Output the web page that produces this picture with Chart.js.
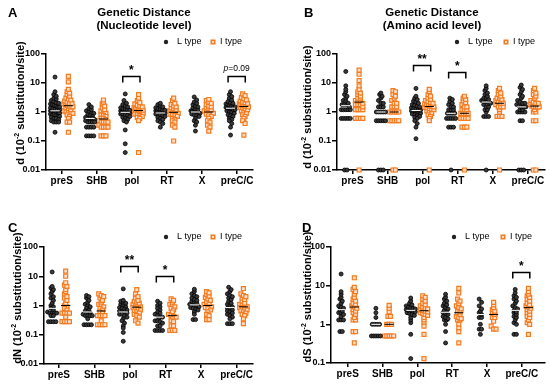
<!DOCTYPE html>
<html>
<head>
<meta charset="utf-8">
<script src="https://cdn.jsdelivr.net/npm/chart.js@4"></script>
<style>
html,body{margin:0;padding:0;background:#fff;width:550px;height:387px;overflow:hidden}
.p{position:absolute}
</style>
</head>
<body>
<div class="p" style="left:0;top:0"><canvas id="cA" width="275" height="195"></canvas></div>
<div class="p" style="left:275px;top:0"><canvas id="cB" width="275" height="195"></canvas></div>
<div class="p" style="left:0;top:195px"><canvas id="cC" width="275" height="192"></canvas></div>
<div class="p" style="left:275px;top:195px"><canvas id="cD" width="275" height="192"></canvas></div>
<script>
// categories and tick labels
var genes = ['preS', 'SHB', 'pol', 'RT', 'X', 'preC/C'];
var ticksABC = [0.01, 0.1, 1, 10, 100];
var ticksD = [0.1, 1, 10, 100];

// A: d, nucleotide level (one list per gene)
var aL = [
  [16,5,4,3.5,3,2.8,2.5,2.3,2.1,2,1.9,1.8,1.7,1.6,1.5,1.5,1.4,1.3,1.3,1.2,1.2,1.1,1.1,1,1,1,0.95,0.9,0.9,0.85,0.8,0.8,0.75,0.7,0.7,0.65,0.6,0.6,0.55,0.5,0.45,0.45,0.45,0.2],
  [1.8,1.5,1.3,1.2,1.1,1,0.9,0.9,0.8,0.75,0.7,0.65,0.6,0.6,0.6,0.55,0.5,0.45,0.45,0.45,0.45,0.3,0.3,0.3,0.3,0.15,0.15,0.15,0.15],
  [4.2,2.5,2,1.8,1.6,1.5,1.4,1.3,1.25,1.2,1.15,1.1,1.05,1,1,1,0.95,0.9,0.9,0.85,0.8,0.8,0.75,0.7,0.65,0.6,0.55,0.5,0.45,0.24,0.08,0.04],
  [2,1.8,1.6,1.5,1.4,1.3,1.25,1.2,1.15,1.1,1.05,1,1,0.95,0.9,0.9,0.85,0.8,0.8,0.75,0.7,0.65,0.6,0.55,0.5,0.45,0.4,0.3],
  [3.3,2.6,2.2,2,1.8,1.6,1.5,1.4,1.3,1.2,1.1,1.05,1,1,0.95,0.9,0.9,0.85,0.8,0.75,0.7,0.6,0.5,0.45,0.35,0.22],
  [5,4,3.4,3,2.6,2.3,2.1,2,1.9,1.8,1.7,1.6,1.5,1.5,1.45,1.4,1.35,1.3,1.2,1.2,1.1,1,1,0.9,0.8,0.75,0.7,0.6,0.55,0.5,0.4,0.3,0.16]
];
var aI = [
  [17,11,6,5,4.5,4,3.5,3,2.8,2.6,2.4,2.2,2,2,1.9,1.8,1.7,1.6,1.5,1.5,1.4,1.3,1.2,1.1,1,1,0.9,0.9,0.8,0.7,0.6,0.45,0.45,0.2],
  [2.6,2.2,1.9,1.6,1.4,1.2,1.1,1,0.9,0.8,0.75,0.7,0.6,0.6,0.55,0.5,0.45,0.45,0.45,0.45,0.35,0.3,0.3,0.3,0.3,0.15,0.15,0.15],
  [4,3,2.5,2.1,1.9,1.7,1.6,1.5,1.4,1.35,1.3,1.25,1.2,1.2,1.15,1.1,1.1,1.05,1,1,0.95,0.9,0.85,0.8,0.75,0.7,0.65,0.6,0.5,0.04],
  [3,2.5,2,1.8,1.6,1.5,1.4,1.3,1.2,1.1,1.05,1,1,0.95,0.9,0.85,0.8,0.75,0.7,0.6,0.55,0.5,0.45,0.35,0.3,0.1],
  [2.7,2.5,2.2,2,1.8,1.6,1.5,1.4,1.3,1.2,1.1,1,1,0.95,0.9,0.85,0.8,0.7,0.6,0.5,0.45,0.35,0.3,0.22],
  [4.2,3.7,3.2,2.9,2.6,2.4,2.2,2.1,2,1.9,1.8,1.7,1.65,1.6,1.55,1.5,1.45,1.4,1.3,1.2,1.1,1,0.9,0.8,0.7,0.6,0.5,0.4,0.16]
];

// B: d, amino acid level (0.01 = zero, drawn on the axis)
var bL = [
  [25,8,6,5,4,3.5,3,2.5,2.4,2,1.8,1.8,1.8,1.5,1.2,1.2,1.2,1.2,1.2,0.6,0.6,0.6,0.6,0.6,0.01,0.01],
  [4.5,4,3.5,3,2.5,2,2,1.5,1.5,1.5,1,1,1,1,1,0.5,0.5,0.5,0.5,0.5,0.01,0.01,0.01],
  [6.5,3.5,3,2.7,2.4,2.2,2,1.8,1.7,1.6,1.5,1.4,1.3,1.25,1.2,1.15,1.1,1.05,1,1,0.95,0.9,0.85,0.8,0.75,0.7,0.65,0.6,0.5,0.4,0.3,0.12],
  [3,2.7,2.3,2,1.8,1.5,1.5,1.2,1.2,1.2,0.9,0.9,0.9,0.9,0.6,0.6,0.6,0.6,0.6,0.3,0.3,0.3,0.01],
  [8,6.5,5.5,4.5,4,3.5,3,3,2.7,2.5,2.5,2.2,2.2,2,2,1.8,1.5,1.5,1.2,1.2,1,0.7,0.7,0.7,0.01],
  [8.5,7,6,5,4,3.5,3,2.5,2.2,2,2,1.8,1.6,1.5,1.5,1.5,1.2,1.2,1,1,1,1,0.5,0.5,0.01,0.01,0.01]
];
var bI = [
  [28,20,12,8,6,5,4.5,4,3.5,3,3,2.5,2.4,2.4,2,1.8,1.8,1.8,1.5,1.2,1.2,1.2,1.2,0.6,0.6,0.6,0.6,0.01],
  [5.5,5,4,3.5,3,2.5,2,2,1.5,1.5,1.5,1,1,1,1,1,0.5,0.5,0.5,0.5,0.5,0.01,0.01],
  [6,5,4,3.5,3,2.7,2.5,2.3,2.1,2,1.9,1.8,1.7,1.6,1.55,1.5,1.45,1.4,1.3,1.25,1.2,1.1,1,0.9,0.8,0.7,0.6,0.5,0.01],
  [3.5,3,2.7,2.4,2.1,1.8,1.5,1.5,1.2,1.2,1.2,0.9,0.9,0.9,0.9,0.6,0.6,0.6,0.6,0.3,0.3,0.3,0.01],
  [6.5,5.5,4.5,4,3.5,3,3,2.7,2.5,2.2,2,2,1.8,1.5,1.5,1.5,1.2,1,0.7,0.7,0.7,0.01],
  [6.5,5.5,4.5,4,3.5,3,2.5,2.2,2,2,1.8,1.6,1.5,1.5,1.5,1.5,1.2,1,1,0.5,0.5,0.01,0.01]
];

// C: dN
var cL = [
  [14,4.5,4,3.5,3,2.5,2,1.8,1.5,1.2,1,0.9,0.8,0.7,0.6,0.55,0.55,0.55,0.55,0.45,0.45,0.28,0.28,0.28,0.28],
  [2.2,2,1.8,1.5,1.3,1.1,1,0.9,0.8,0.7,0.65,0.6,0.55,0.5,0.45,0.45,0.45,0.45,0.35,0.22,0.22,0.22,0.22],
  [3.7,1.5,1.4,1.3,1.2,1.1,1,0.9,0.85,0.8,0.75,0.7,0.65,0.6,0.6,0.55,0.5,0.5,0.45,0.4,0.35,0.3,0.25,0.2,0.17,0.12,0.06],
  [1.4,1.2,1,0.9,0.8,0.7,0.6,0.55,0.5,0.45,0.4,0.4,0.35,0.3,0.3,0.28,0.25,0.2,0.2,0.14,0.14,0.14,0.14],
  [3.6,3,2.5,2.2,2,1.8,1.6,1.5,1.4,1.3,1.2,1.1,1,1,0.95,0.9,0.85,0.8,0.75,0.7,0.6,0.5,0.33,0.33],
  [4.2,3.5,3,2.5,2.2,2,1.8,1.6,1.4,1.2,1.1,1,0.9,0.8,0.75,0.7,0.65,0.6,0.55,0.5,0.45,0.4,0.35,0.24,0.24,0.24]
];
var cI = [
  [15,10,6,5,4.5,3.5,3,2.5,2,1.8,1.5,1.2,1,0.9,0.8,0.7,0.55,0.55,0.55,0.55,0.4,0.28,0.28,0.28,0.28],
  [2.5,2.2,2,1.8,1.5,1.3,1.1,1,0.9,0.8,0.7,0.6,0.55,0.45,0.45,0.45,0.45,0.3,0.22,0.22,0.22,0.22],
  [3.5,2.5,2,1.8,1.5,1.4,1.3,1.2,1.1,1,0.95,0.9,0.85,0.8,0.75,0.7,0.65,0.6,0.55,0.5,0.45,0.4,0.3,0.25],
  [1.7,1.5,1.3,1.1,1,0.9,0.8,0.7,0.6,0.5,0.45,0.42,0.4,0.35,0.3,0.28,0.2,0.2,0.14,0.14,0.14],
  [3,2.7,2.4,2.1,1.9,1.7,1.5,1.3,1.2,1.1,1,0.95,0.9,0.85,0.8,0.7,0.6,0.5,0.45,0.33,0.33],
  [3.8,2.5,2.2,2,1.8,1.6,1.4,1.2,1.1,1,0.95,0.9,0.85,0.8,0.75,0.7,0.65,0.6,0.55,0.5,0.45,0.35,0.24]
];

// D: dS
var dL = [
  [20,7,6,5,4.5,4,3.5,3,2.8,2.6,2.4,2.2,2,2,1.8,1.6,1.3,1.3,1.3,0.65,0.65],
  [2.6,2,1.5,1,1,1,1,0.5,0.5,0.5,0.5,0.5],
  [4.8,4,3.5,3.2,3,2.8,2.7,2.6,2.5,2.4,2.35,2.3,2.2,2.1,2,1.9,1.8,1.7,1.5,1.3,1.1,0.55,0.13],
  [6,5,4.5,4,3.5,3.2,3,2.7,2.5,2.3,2.1,2,1.9,1.8,1.6,1.5,1.4,1.3,1.3,1,0.65,0.33],
  [4.5,3.7,3,2.5,2.2,2,1.8,1.5,1.5,1,0.75,0.75,0.55],
  [8,6.5,5.5,5,4.5,4,3.5,3,2.7,2.5,2.3,2.1,2,1.8,1.6,1.5,1.3,1.1,1,0.55,0.55]
];
var dI = [
  [16,9,8,7,6,5,4.5,4,3.5,3.3,3,2.8,2.6,2.4,2.2,2,1.8,1.5,1.3,1.3,0.65,0.65,0.33],
  [3.1,2.6,2.1,1.6,1.6,1,1,1,0.5,0.5,0.5,0.5,0.5],
  [5.5,5,4.5,4,3.5,3.2,3,2.8,2.6,2.5,2.4,2.3,2.2,2.1,2,1.9,1.8,1.7,1.5,1.3,1.1,0.9,0.55,0.13],
  [8.5,6.5,4.5,4,3.5,3,2.7,2.5,2.3,2.1,2,1.8,1.6,1.5,1.4,1.3,1.3,1,0.8,0.65,0.33],
  [3.7,3.2,2.7,2.4,2.2,2,1.8,1.5,1.5,1.2,0.9,0.75,0.75],
  [8.5,7,6,5.5,5,4.5,4,3.5,3.2,3,2.8,2.6,2.4,2.2,2,1.8,1.6,1.5,1.3,1.1,1,0.55]
];

// significance brackets: gene index, bracket height (value), label
var sigA = [{i: 2, y: 17, t: '*'}, {i: 5, y: 17, t: 'p=0.09'}];
var sigB = [{i: 2, y: 41, t: '**'}, {i: 3, y: 24, t: '*'}];
var sigC = [{i: 2, y: 22, t: '**'}, {i: 3, y: 10, t: '*'}];
var sigD = [{i: 5, y: 22, t: '*'}];

var ORANGE = '#F47B20';
var FONT = '"Liberation Sans", Arial, sans-serif';
var SIDE = 0.19, STEP = 0.07, HALF = 0.13;

// stack equal-looking values side by side in rows
function swarm(groups, side, bpd) {
  var pts = [];
  groups.forEach(function (vals, i) {
    var rows = {};
    vals.forEach(function (v) {
      var b = Math.round(Math.log10(v) * bpd);
      (rows[b] = rows[b] || []).push(v);
    });
    Object.keys(rows).forEach(function (b) {
      var r = rows[b], n = r.length;
      var st = n > 1 ? Math.min(STEP, 2 * HALF / (n - 1)) : 0;
      r.forEach(function (v, k) {
        pts.push({x: i + side * SIDE + (k - (n - 1) / 2) * st, y: v});
      });
    });
  });
  return pts;
}

function median(a) {
  var s = a.slice().sort(function (p, q) { return p - q; });
  var m = s.length >> 1;
  return s.length % 2 ? s[m] : (s[m - 1] + s[m]) / 2;
}

var decor = {
  id: 'decor',
  afterDatasetsDraw: function (chart, args, o) {
    var ctx = chart.ctx, xs = chart.scales.x, ys = chart.scales.y;
    ctx.save();
    // median lines
    [[o.L, '#fff', -1], [o.I, '#000', 1]].forEach(function (g) {
      g[0].forEach(function (vals, i) {
        var c = i + g[2] * SIDE, y = ys.getPixelForValue(median(vals));
        ctx.strokeStyle = g[1]; ctx.lineWidth = 1;
        ctx.beginPath();
        ctx.moveTo(xs.getPixelForValue(c - 0.13), y);
        ctx.lineTo(xs.getPixelForValue(c + 0.13), y);
        ctx.stroke();
      });
    });
    // brackets
    ctx.strokeStyle = '#000'; ctx.fillStyle = '#000'; ctx.lineWidth = 1.5;
    o.sig.forEach(function (s) {
      var x1 = xs.getPixelForValue(s.i - 0.26), x2 = xs.getPixelForValue(s.i + 0.23);
      var y = Math.round(ys.getPixelForValue(s.y)) + 0.5;
      ctx.beginPath();
      ctx.moveTo(x1, y + 6); ctx.lineTo(x1, y); ctx.lineTo(x2, y); ctx.lineTo(x2, y + 6);
      ctx.stroke();
      var cx = (x1 + x2) / 2;
      if (s.t.charAt(0) === 'p') {
        ctx.font = 'italic 8.5px ' + FONT;
        var w1 = ctx.measureText('p').width;
        ctx.font = '8.5px ' + FONT;
        var w2 = ctx.measureText(s.t.slice(1)).width;
        ctx.textBaseline = 'middle'; ctx.textAlign = 'left';
        ctx.font = 'italic 8.5px ' + FONT;
        ctx.fillText('p', cx - (w1 + w2) / 2, y - 8);
        ctx.font = '8.5px ' + FONT;
        ctx.fillText(s.t.slice(1), cx - (w1 + w2) / 2 + w1, y - 8);
      } else {
        ctx.font = 'bold 12px ' + FONT;
        ctx.textAlign = 'center'; ctx.textBaseline = 'alphabetic';
        ctx.fillText(s.t, cx, y - 10 + 7);
      }
    });
    ctx.restore();
  },
  afterDraw: function (chart, args, o) {
    var ctx = chart.ctx;
    ctx.save();
    ctx.fillStyle = '#000';
    // panel letter
    ctx.font = 'bold 13px ' + FONT;
    ctx.textAlign = 'left'; ctx.textBaseline = 'alphabetic';
    ctx.fillText(o.letter, o.lx, o.ly);
    // title
    if (o.title) {
      ctx.font = 'bold 11.5px ' + FONT;
      ctx.textAlign = 'center'; ctx.textBaseline = 'middle';
      ctx.fillText(o.title[0], o.tx, 13);
      ctx.fillText(o.title[1], o.tx, 25.5);
    }
    // legend
    ctx.font = '9px ' + FONT;
    ctx.textAlign = 'left'; ctx.textBaseline = 'middle';
    ctx.beginPath(); ctx.arc(o.leg[0], o.leg[1], 2.2, 0, Math.PI * 2);
    ctx.fillStyle = '#222'; ctx.fill();
    ctx.fillStyle = '#000';
    ctx.fillText('L type', o.leg[0] + 11, o.leg[1]);
    ctx.fillStyle = ORANGE;
    ctx.fillRect(o.leg[2] - 2.5, o.leg[1] - 2.5, 5, 5);
    ctx.fillStyle = '#fde0c8';
    ctx.fillRect(o.leg[2] - 1, o.leg[1] - 1, 2, 2);
    ctx.fillStyle = '#000';
    ctx.fillText('I type', o.leg[2] + 7, o.leg[1]);
    // y-axis title, rotated, with superscript
    ctx.translate(o.yt[0], o.yt[1]);
    ctx.rotate(-Math.PI / 2);
    var a = o.ylab + ' (10', b = '-2', c = ' substitution/site)';
    ctx.font = 'bold 11px ' + FONT;
    var wa = ctx.measureText(a).width, wc = ctx.measureText(c).width;
    ctx.font = 'bold 7px ' + FONT;
    var wb = ctx.measureText(b).width;
    var x0 = -(wa + wb + wc) / 2;
    ctx.textAlign = 'left'; ctx.textBaseline = 'alphabetic';
    ctx.font = 'bold 11px ' + FONT;
    ctx.fillText(a, x0, 4);
    ctx.font = 'bold 7px ' + FONT;
    ctx.fillText(b, x0 + wa, -1);
    ctx.font = 'bold 11px ' + FONT;
    ctx.fillText(c, x0 + wa + wb, 4);
    ctx.restore();
  }
};

function panel(id, L, I, ticks, sig, g) {
  var bpd = g.decade / 3.4;
  var YW = 40, XH = 20;
  new Chart(document.getElementById(id), {
    type: 'scatter',
    data: {
      datasets: [
        {label: 'L type', data: swarm(L, -1, bpd), clip: false,
          pointStyle: 'circle', pointRadius: 2.0, backgroundColor: '#3a3a3a',
          borderColor: '#000', borderWidth: 0.8},
        {label: 'I type', data: swarm(I, 1, bpd), clip: false,
          pointStyle: 'rect', pointRadius: 2.8, backgroundColor: '#fde0c8',
          borderColor: ORANGE, borderWidth: 1.2}
      ]
    },
    options: {
      responsive: false,
      animation: false,
      events: [],
      layout: {padding: {left: g.left - YW, right: g.W - g.right, top: g.top, bottom: g.H - g.bottom - XH}},
      plugins: {
        legend: {display: false},
        tooltip: {enabled: false},
        decor: {L: L, I: I, sig: sig, letter: g.letter, lx: g.lx, ly: g.ly, title: g.title, tx: g.tx,
          leg: g.leg, yt: g.yt, ylab: g.ylab}
      },
      scales: {
        x: {
          type: 'linear', min: g.xmin, max: g.xmax,
          afterFit: function (s) { s.height = XH; },
          afterBuildTicks: function (s) { s.ticks = genes.map(function (_, i) { return {value: i}; }); },
          grid: {drawOnChartArea: false, drawTicks: true, tickLength: 4, color: '#000', lineWidth: 1.5},
          border: {color: '#000', width: 1.5},
          ticks: {autoSkip: false, maxRotation: 0, padding: 1, color: '#000',
            font: {family: FONT, size: 10, weight: 'bold'},
            callback: function (v) { return genes[v]; }}
        },
        y: {
          type: 'logarithmic', min: ticks[0], max: ticks[ticks.length - 1],
          afterFit: function (s) { s.width = YW; },
          afterBuildTicks: function (s) { s.ticks = ticks.map(function (v) { return {value: v}; }); },
          grid: {drawOnChartArea: false, drawTicks: true, tickLength: 5, color: '#000', lineWidth: 1.5},
          border: {color: '#000', width: 1.5},
          ticks: {padding: 1, color: '#000', font: {family: FONT, size: 9, weight: 'bold'},
            callback: function (v) { return String(v); }}
        }
      }
    },
    plugins: [decor]
  });
}

panel('cA', aL, aI, ticksABC, sigA, {W: 275, H: 195, left: 46, right: 253, top: 54, bottom: 170,
  xmin: -0.447, xmax: 5.45, decade: 29, letter: 'A', lx: 8, ly: 17, title: ['Genetic Distance', '(Nucleotide level)'],
  tx: 144, leg: [166, 42, 213], yt: [20, 103], ylab: 'd'});
panel('cB', bL, bI, ticksABC, sigB, {W: 275, H: 195, left: 62, right: 270, top: 54, bottom: 170,
  xmin: -0.44, xmax: 5.48, decade: 29, letter: 'B', lx: 29, ly: 17, title: ['Genetic Distance', '(Amino acid level)'],
  tx: 157, leg: [182, 42, 231], yt: [32, 107], ylab: 'd'});
panel('cC', cL, cI, ticksABC, sigC, {W: 275, H: 192, left: 44, right: 253, top: 52, bottom: 169,
  xmin: -0.42, xmax: 5.46, decade: 29.4, letter: 'C', lx: 8, ly: 37, title: null,
  tx: 0, leg: [166, 42, 213], yt: [17, 103], ylab: 'dN'});
panel('cD', dL, dI, ticksD, sigD, {W: 275, H: 192, left: 56, right: 273, top: 52, bottom: 168,
  xmin: -0.48, xmax: 5.66, decade: 39, letter: 'D', lx: 27, ly: 37, title: null,
  tx: 0, leg: [179, 42, 228], yt: [32, 102], ylab: 'dS'});
</script>
</body>
</html>
